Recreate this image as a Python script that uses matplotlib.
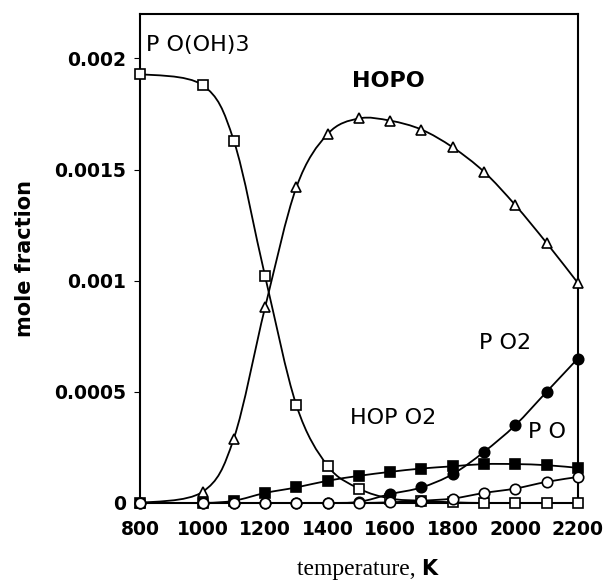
import numpy as np
import matplotlib
matplotlib.use("Agg")
import matplotlib.pyplot as plt
from matplotlib.path import Path
from matplotlib.patches import PathPatch

# temperatures (K)
temps = [800, 1000, 1100, 1200, 1300, 1400, 1500, 1600, 1700, 1800, 1900, 2000, 2100, 2200]

# mole fractions
po_oh3 = [0.00193, 0.00188, 0.00163, 0.00102, 0.00044, 0.000167, 0.000065, 0.00002,
          0.00001, 0.000003, 0.0, 0.0, 0.0, 0.0]
hopo = [0.0, 0.00005, 0.00029, 0.00088, 0.00142, 0.00166, 0.00173, 0.00172,
        0.00168, 0.0016, 0.00149, 0.00134, 0.00117, 0.00099]
hopo2 = [0.0, 0.0, 0.00001, 0.000045, 0.00007, 0.0001, 0.000122, 0.00014,
         0.000155, 0.000165, 0.000175, 0.000175, 0.00017, 0.000158]
po2 = [0.0, 0.0, 0.0, 0.0, 0.0, 0.0, 0.000005, 0.00004, 0.00007, 0.00013,
       0.00023, 0.00035, 0.0005, 0.00065]
po = [0.0, 0.0, 0.0, 0.0, 0.0, 0.0, 0.0, 0.000003, 0.00001, 0.00002,
      0.000045, 0.000065, 0.000095, 0.000117]

x_ticks = [800, 1000, 1200, 1400, 1600, 1800, 2000, 2200]
y_ticks = [0, 0.0005, 0.001, 0.0015, 0.002]
y_ticklabels = ["0", "0.0005", "0.001", "0.0015", "0.002"]


def smooth_path(x, y):
    # catmull-rom through the points, drawn as cubic bezier pieces
    x = np.asarray(x, float)
    y = np.asarray(y, float)
    pts = np.column_stack([x, y])
    verts = [pts[0]]
    codes = [Path.MOVETO]
    n = len(pts)
    for i in range(n - 1):
        p0 = pts[i - 1] if i > 0 else pts[i]
        p1 = pts[i]
        p2 = pts[i + 1]
        p3 = pts[i + 2] if i + 2 < n else pts[i + 1]
        c1 = p1 + (p2 - p0) / 6.0
        c2 = p2 - (p3 - p1) / 6.0
        verts += [c1, c2, p2]
        codes += [Path.CURVE4] * 3
    return Path(verts, codes)


fig = plt.figure(figsize=(6.07, 5.88), dpi=100)
ax = fig.add_axes([0.2306, 0.1446, 0.7214, 0.8316])

series = [
    (po_oh3, "s", "white"),
    (hopo, "^", "white"),
    (hopo2, "s", "black"),
    (po2, "o", "black"),
    (po, "o", "white"),
]
for vals, mk, fc in series:
    ax.add_patch(PathPatch(smooth_path(temps, vals), fill=False, lw=1.3, ec="black", zorder=2))
    ax.plot(temps, vals, ls="none", marker=mk, ms=7.5, mfc=fc, mec="black", mew=1.2,
            clip_on=False, zorder=3)

ax.set_xlim(800, 2200)
ax.set_ylim(0, 0.0022)
ax.set_xticks(x_ticks)
ax.set_xticklabels([str(t) for t in x_ticks], fontsize=13.5, fontweight="bold")
ax.set_yticks(y_ticks)
ax.set_yticklabels(y_ticklabels, fontsize=13.5, fontweight="bold")
ax.tick_params(axis="x", length=0, pad=12)
ax.tick_params(axis="y", direction="out", length=4, pad=6)
for s in ax.spines.values():
    s.set_linewidth(1.5)

ax.set_ylabel("mole fraction", fontsize=15, fontweight="bold", labelpad=14,
              family="Liberation Sans Narrow")

xl = ax.annotate("temperature, ", xy=(0.5, -0.137), xycoords="axes fraction",
                 ha="center", va="center", fontsize=17, family="Liberation Serif")
ax.annotate("K", xy=(1, 0.05), xycoords=xl, ha="left", va="bottom",
            fontsize=15, fontweight="bold", family="DejaVu Sans")

ax.text(818, 0.00206, "P O(OH)3", fontsize=16, va="center")
ax.text(1593, 0.0019, "HOPO", fontsize=16, fontweight="bold", ha="center", va="center")
ax.text(1610, 0.000383, "HOP O2", fontsize=16, ha="center", va="center")
ax.text(1967, 0.00072, "P O2", fontsize=16, ha="center", va="center")
ax.text(2100, 0.00032, "P O", fontsize=16, ha="center", va="center")

fig.savefig("out.png", dpi=100)
